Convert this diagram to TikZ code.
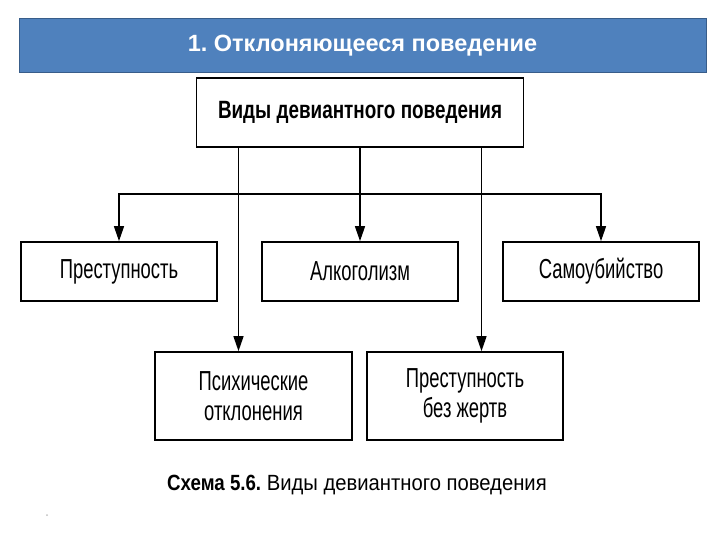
\documentclass[tikz,border=0pt]{standalone}
\usepackage{fontspec}
\setmainfont{Liberation Sans}
\newfontfamily\condfont{Liberation Sans}[FakeStretch=0.67]
\newfontfamily\condbold{Liberation Sans Bold}[FakeStretch=0.755]
\newfontfamily\capfont{Liberation Sans}[FakeStretch=0.92]
\newfontfamily\capbold{Liberation Sans Bold}[FakeStretch=0.85]
\usetikzlibrary{arrows.meta,calc}
\definecolor{titleblue}{HTML}{4F81BD}
\definecolor{titleedge}{HTML}{385D8A}
\frenchspacing
\begin{document}
\frenchspacing
\begin{tikzpicture}[x=1pt,y=-1pt,
  box/.style={draw=black,line width=1.7pt,fill=white,rectangle,inner sep=0pt,
    minimum width=196pt,minimum height=59pt,align=center,
    font=\condfont\fontsize{27.5}{30}\selectfont},
  arr/.style={line width=1.4pt,-{Triangle[length=15pt,width=10pt]}}]
\useasboundingbox (0,0) rectangle (720,540);
\node[draw=titleedge,line width=1pt,fill=titleblue,minimum width=687pt,minimum height=54pt,inner sep=0pt,
  text=white,font=\bfseries\fontsize{23.5}{26}\selectfont] (title) at (362.5,46) {1. Отклоняющееся поведение};
\node[box,minimum width=327pt,minimum height=69pt,font=\condbold\fontsize{25}{27}\selectfont] (top) at (360,112.5) {Виды девиантного поведения};
\node[box] (p1) at (119,271.5) {Преступность};
\node[box] (p2) at (360,271.5) {Алкоголизм};
\node[box] (p3) at (601,271.5) {Самоубийство};
\node[box,minimum width=197pt,minimum height=88pt] (p4) at (253.5,396) {Психические\\отклонения};
\node[box,minimum height=88pt] (p5) at (465,396) {Преступность\\без жертв};
\coordinate (hub) at ($(top.south)+(0,46)$);
\coordinate (l) at ($(top.south)+(-121.5,0)$);
\coordinate (r) at ($(top.south)+(121.5,0)$);
\draw[arr] (top.south) -- (p2.north);
\draw[arr] (hub) -| (p1.north);
\draw[arr] (hub) -| (p3.north);
\draw[arr] (l) -- (l |- p4.north);
\draw[arr] (r) -- (r |- p5.north);
\node[font=\capfont\fontsize{22}{24}\selectfont] (cap) at (357,485) {{\capbold Схема 5.6.} Виды девиантного поведения};
\fill[gray!50] (47,515) circle (1pt);
\end{tikzpicture}
\end{document}
